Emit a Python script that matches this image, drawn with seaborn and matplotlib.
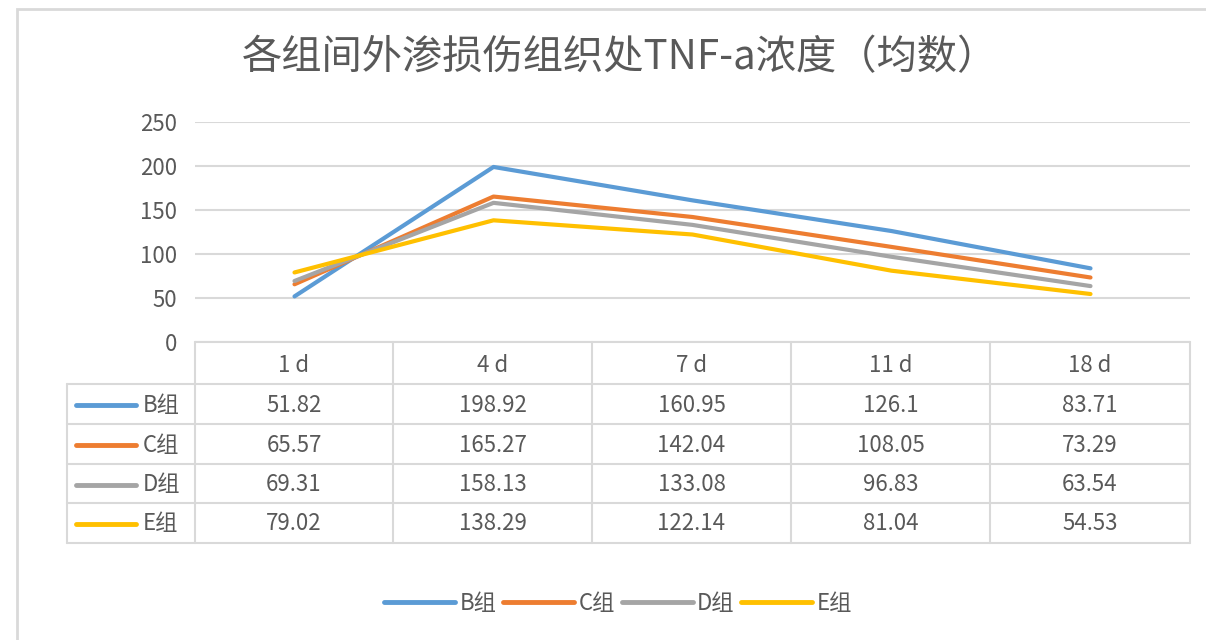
import pandas as pd
import seaborn as sns
import matplotlib.pyplot as plt
from matplotlib.lines import Line2D
from matplotlib.patches import Rectangle

# data
days = ["1 d", "4 d", "7 d", "11 d", "18 d"]
groups = ["B组", "C组", "D组", "E组"]
b_vals = [51.82, 198.92, 160.95, 126.1, 83.71]
c_vals = [65.57, 165.27, 142.04, 108.05, 73.29]
d_vals = [69.31, 158.13, 133.08, 96.83, 63.54]
e_vals = [79.02, 138.29, 122.14, 81.04, 54.53]
colors = ["#5B9BD5", "#ED7D31", "#A5A5A5", "#FFC000"]
title = "各组间外渗损伤组织处TNF-a浓度（均数）"

all_vals = [b_vals, c_vals, d_vals, e_vals]
rows = []
for g, vals in zip(groups, all_vals):
    for i, v in enumerate(vals):
        rows.append({"pos": i, "day": days[i], "group": g, "value": v})
df = pd.DataFrame(rows)

sns.set_style("white")
plt.rcParams['font.family'] = ['Noto Sans CJK SC', 'DejaVu Sans']
txt = "#595959"
grid = "#D9D9D9"
fs = 16

W, H = 1206, 640
fig = plt.figure(figsize=(W / 100, H / 100), dpi=100)

def fx(px):
    return px / W

def fy(py):
    return 1 - py / H

# plot area
left, right, top, bottom = 195, 1190, 122, 342
ax = fig.add_axes([fx(left), fy(bottom), fx(right - left), (bottom - top) / H])
sns.lineplot(data=df, x="pos", y="value", hue="group", palette=colors,
             linewidth=3, legend=False, ax=ax)
ax.set_xlim(-0.5, len(days) - 0.5)
ax.set_ylim(0, 250)
ax.set_yticks([0, 50, 100, 150, 200, 250])
ax.set_xticks([])
ax.set_xlabel("")
ax.set_ylabel("")
for s in ax.spines.values():
    s.set_visible(False)
ax.yaxis.grid(True, color=grid, linewidth=1.5)
ax.set_axisbelow(True)
ax.tick_params(axis="y", length=0, pad=13, labelsize=fs, labelcolor=txt)

fig.text(fx(620), fy(58), title, ha="center", va="center", fontsize=29,
         color=txt, fontweight="light")

# data table under the plot
col_edges = [195, 393, 592, 791, 990, 1190]
row_edges = [342, 384, 424, 464, 503, 543]
label_left = 67
lc = "#D9D9D9"
lw = 1.5

def hline(y, x0, x1):
    fig.add_artist(Line2D([fx(x0), fx(x1)], [fy(y), fy(y)], color=lc, lw=lw))

def vline(x, y0, y1):
    fig.add_artist(Line2D([fx(x), fx(x)], [fy(y0), fy(y1)], color=lc, lw=lw))

hline(row_edges[0], col_edges[0], col_edges[-1])
for y in row_edges[1:]:
    hline(y, label_left, col_edges[-1])
vline(label_left, row_edges[1], row_edges[-1])
for x in col_edges:
    vline(x, row_edges[0], row_edges[-1])

for j, d in enumerate(days):
    cx = (col_edges[j] + col_edges[j + 1]) / 2
    cy = (row_edges[0] + row_edges[1]) / 2 + 2
    fig.text(fx(cx), fy(cy), d, ha="center", va="center", fontsize=fs, color=txt)

for i, (g, vals) in enumerate(zip(groups, all_vals)):
    cy = (row_edges[i + 1] + row_edges[i + 2]) / 2 + 1
    fig.add_artist(Line2D([fx(76), fx(136)], [fy(cy), fy(cy)], color=colors[i],
                          lw=3.5, solid_capstyle="round"))
    fig.text(fx(143), fy(cy), g, ha="left", va="center", fontsize=fs, color=txt)
    for j, v in enumerate(vals):
        cx = (col_edges[j] + col_edges[j + 1]) / 2
        fig.text(fx(cx), fy(cy), f"{v:g}", ha="center", va="center",
                 fontsize=fs, color=txt)

# legend at bottom
handles = [Line2D([], [], color=c, lw=3.5, solid_capstyle="round") for c in colors]
leg = fig.legend(handles, groups, loc="center", bbox_to_anchor=(fx(618), fy(603)),
                 ncol=4, frameon=False, fontsize=fs, handlelength=3.2,
                 handletextpad=0.2, columnspacing=0.3, labelcolor=txt)

# chart border
fig.add_artist(Rectangle((fx(17), -0.1), 1.2, fy(9) + 0.1, fill=False,
                         edgecolor=grid, lw=2, transform=fig.transFigure))

fig.savefig("out.png", dpi=100)
